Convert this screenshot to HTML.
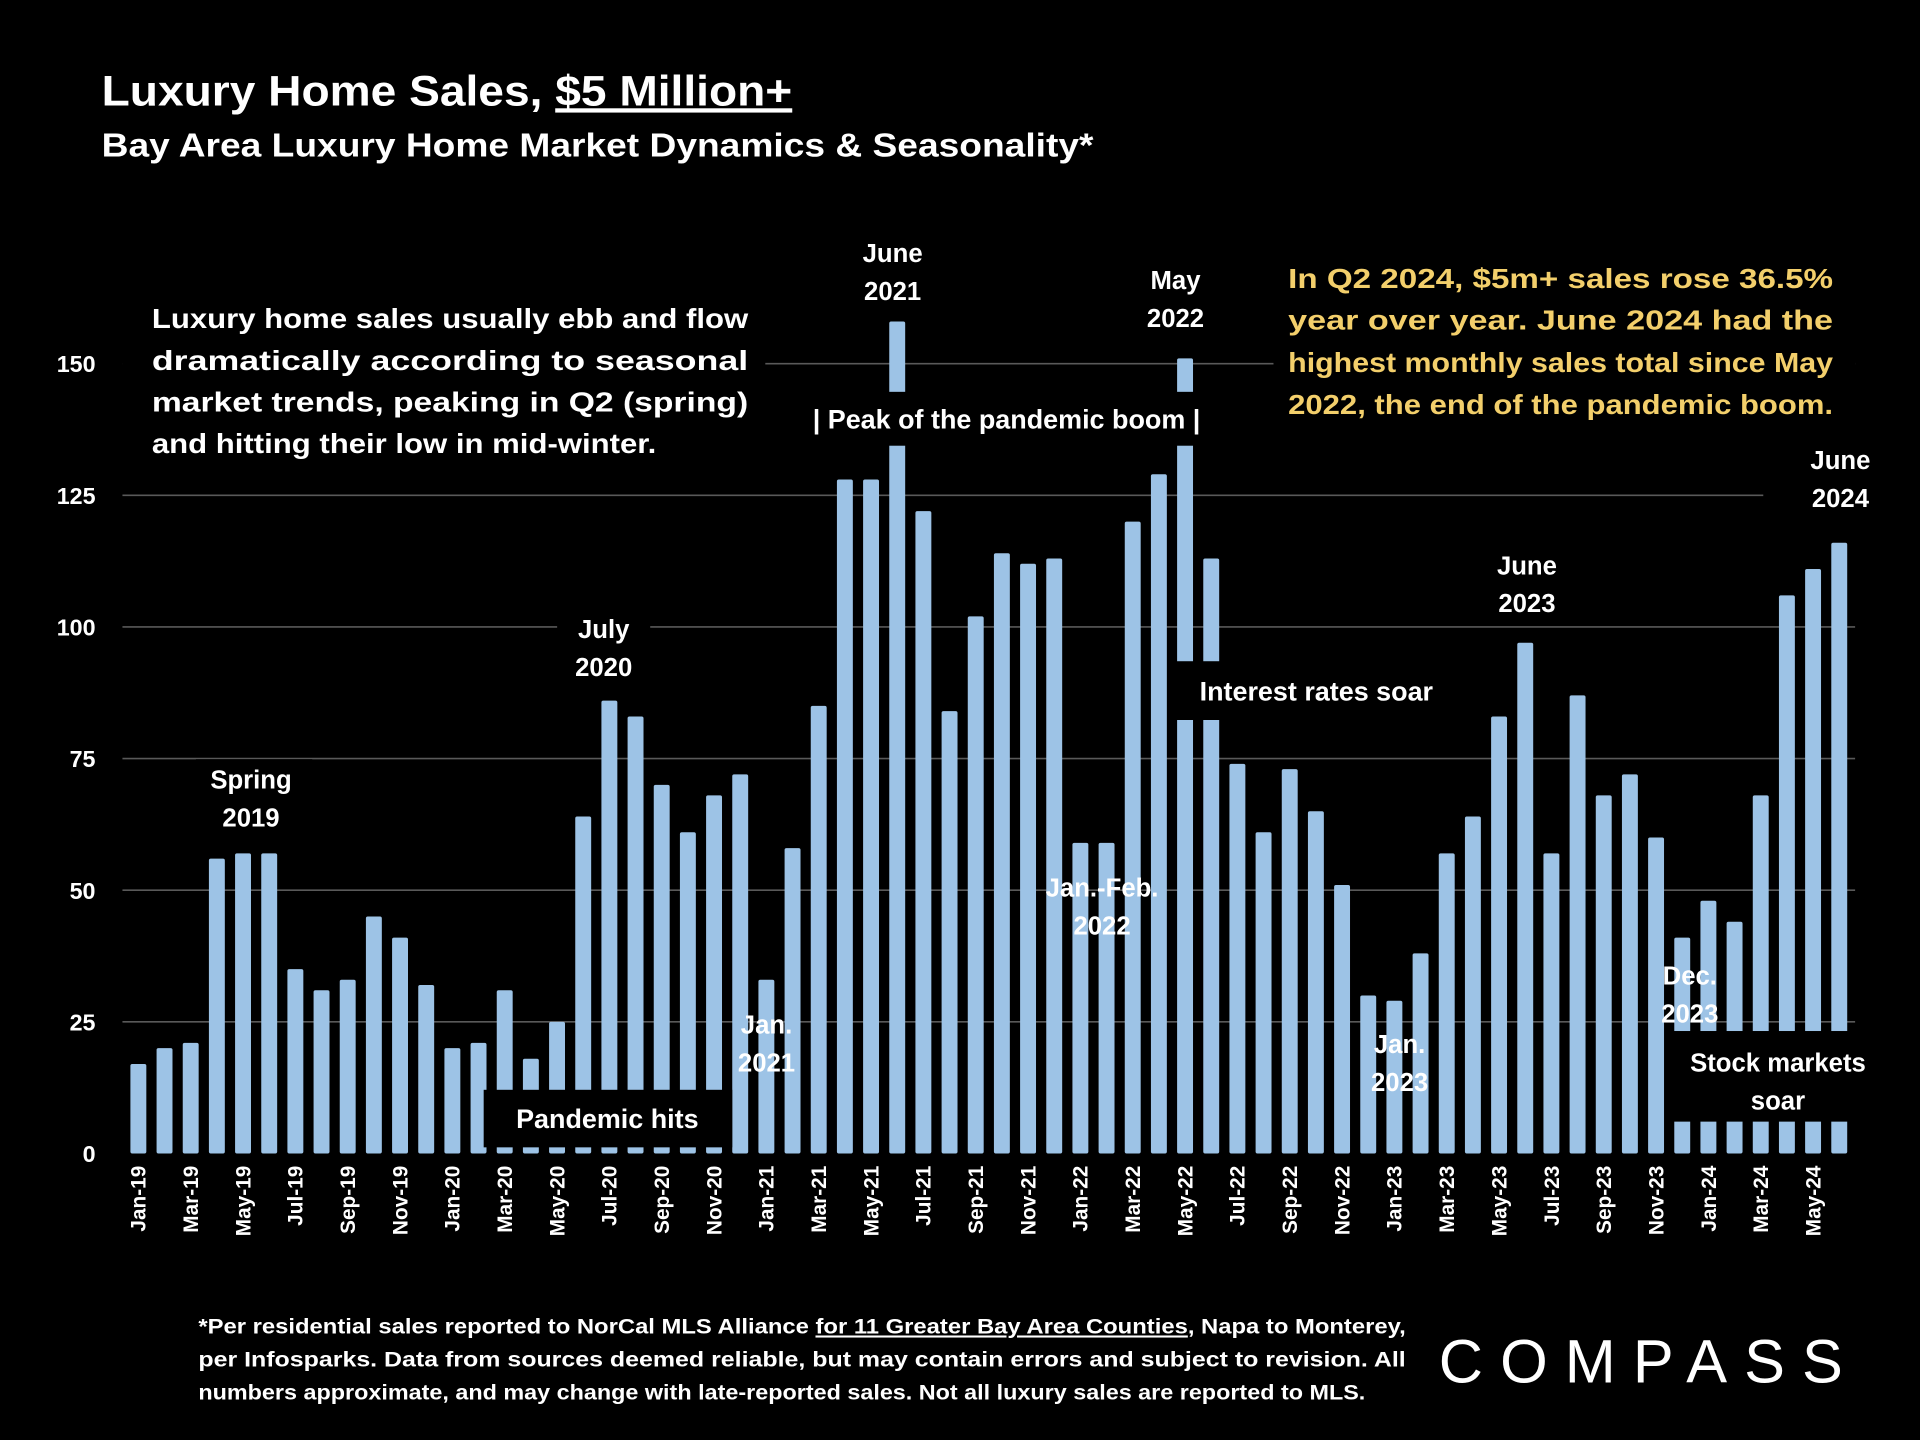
<!DOCTYPE html>
<html><head><meta charset="utf-8"><style>
html,body{margin:0;padding:0;background:#000;}
svg{display:block;font-family:"Liberation Sans",sans-serif;font-weight:bold;}
</style></head><body>
<svg id="chart" width="1920" height="1440" viewBox="0 0 1568 1176" xmlns="http://www.w3.org/2000/svg">
<rect width="1568" height="1176" fill="#000"/>
<text x="83" y="86" fill="#fff" font-size="35" textLength="564" lengthAdjust="spacingAndGlyphs">Luxury Home Sales, <tspan text-decoration="underline">$5 Million+</tspan></text>
<text x="83" y="128" fill="#fff" font-size="27" textLength="810" lengthAdjust="spacingAndGlyphs">Bay Area Luxury Home Market Dynamics &amp; Seasonality*</text>
<g id="grid"></g>
<g id="masks"></g>
<g id="bars"></g>
<g id="boxes"></g>
<g id="labels"></g>
<g id="xaxis"></g>
<g id="yaxis"></g>
<g fill="#fff" font-size="23">
<text x="124" y="268" textLength="487" lengthAdjust="spacingAndGlyphs">Luxury home sales usually ebb and flow</text>
<text x="124" y="302" textLength="487" lengthAdjust="spacingAndGlyphs">dramatically  according  to  seasonal</text>
<text x="124" y="336" textLength="487" lengthAdjust="spacingAndGlyphs">market trends, peaking in Q2 (spring)</text>
<text x="124" y="370" textLength="412" lengthAdjust="spacingAndGlyphs">and hitting their low in mid-winter.</text>
</g>
<g fill="#f3cf6b" font-size="23">
<text x="1052" y="235" textLength="445" lengthAdjust="spacingAndGlyphs">In Q2 2024, $5m+ sales rose 36.5%</text>
<text x="1052" y="269" textLength="445" lengthAdjust="spacingAndGlyphs">year over year. June 2024 had the</text>
<text x="1052" y="304" textLength="445" lengthAdjust="spacingAndGlyphs">highest monthly sales total since May</text>
<text x="1052" y="338" textLength="445" lengthAdjust="spacingAndGlyphs">2022, the end of the pandemic boom.</text>
</g>
<g fill="#fff" font-size="17">
<text x="162" y="1089" textLength="986" lengthAdjust="spacingAndGlyphs">*Per residential sales reported to NorCal MLS Alliance <tspan text-decoration="underline">for 11 Greater Bay Area Counties</tspan>, Napa to Monterey,</text>
<text x="162" y="1116" textLength="986" lengthAdjust="spacingAndGlyphs">per Infosparks. Data from sources deemed reliable, but may contain errors and subject to revision. All</text>
<text x="162" y="1143" textLength="953" lengthAdjust="spacingAndGlyphs">numbers approximate, and may change with late-reported sales. Not all luxury sales are reported to MLS.</text>
</g>
<text x="1175" y="1129" fill="#fff" font-size="50" font-weight="normal" textLength="330">COMPASS</text>
</svg>
<script>
const months = ["Jan","Feb","Mar","Apr","May","Jun","Jul","Aug","Sep","Oct","Nov","Dec"];
const categories = [];
for (let yr = 19; yr <= 24; yr++) for (let m = 0; m < 12; m++) if (!(yr === 24 && m > 5)) categories.push(months[m] + "-" + yr);
const sales = [17,20,21,56,57,57,35,31,33,45,41,32,
20,21,31,18,25,64,86,83,70,61,68,72,
33,58,85,128,128,158,122,84,102,114,112,113,
59,59,120,129,151,113,74,61,73,65,51,30,
29,38,57,64,83,97,57,87,68,72,60,41,
48,44,68,106,111,116];
const yTicks = [0,25,50,75,100,125,150];
const NS = "http://www.w3.org/2000/svg";
function y(v){ return 942 - v*4.3; }
function x(i){ return 113 + i*21.37; }
function mk(tag, attrs, parent){ const e=document.createElementNS(NS,tag); for(const k in attrs) e.setAttribute(k,attrs[k]); document.getElementById(parent).appendChild(e); return e; }
yTicks.forEach(t=>{
  if (t>0) { const l=mk("line",{x1:100,x2:1515,y1:y(t),y2:y(t),stroke:"#595959","stroke-width":1.3},"grid");
  
   }
  const tx=mk("text",{x:78,y:y(t)+7,"text-anchor":"end",fill:"#fff","font-size":19},"yaxis");
  tx.textContent=t;
  
  
});
[[100,240,525,145],[1040,205,475,145],[1440,360,100,62],[1188,445,117,62],[455,498,76,60],[160,620,95,62],[680,190,95,60],[920,212,85,60]].forEach(r=>{
  mk("rect",{x:r[0],y:r[1],width:r[2],height:r[3],fill:"#000"},"masks");
});
sales.forEach((v,i)=>{
  const b=mk("rect",{x:x(i)-6.5,y:y(v),width:13,height:942-y(v),fill:"#9dc3e6",rx:1.5},"bars");
  
  
  if (i%2===0){
    const t=mk("text",{x:0,y:0,transform:`translate(${x(i)+6},${952}) rotate(-90)`,"text-anchor":"end",fill:"#fff","font-size":17},"xaxis");
    t.textContent=categories[i];
    
    
  }
});
[[645,320,355,44,"|  Peak of the pandemic boom  |",822,350],[960,540,225,48,"Interest rates soar",1075,572],[395,890,203,47,"Pandemic hits",496,921]].forEach(b=>{
  const r=mk("rect",{x:b[0],y:b[1],width:b[2],height:b[3],fill:"#000"},"boxes");
  
  
  const t=mk("text",{x:b[5],y:b[6],"text-anchor":"middle",fill:"#fff","font-size":22},"labels");
  t.textContent=b[4];
  
  
});
const sb=mk("rect",{x:1362,y:842,width:170,height:74,fill:"#000"},"boxes");


[["Spring","2019",205,636],["July","2020",493,513],["June","2021",729,206],["May","2022",960,228],["June","2023",1247,461],["June","2024",1503,375],["Jan.","2021",626,836],["Jan.-Feb.","2022",900,724],["Jan.","2023",1143,852],["Dec.","2023",1380,796],["Stock markets","soar",1452,867]].forEach(l=>{
  const t=mk("text",{x:l[2],y:l[3]+8,"text-anchor":"middle",fill:"#fff","font-size":21},"labels");
  t.textContent=l[0];
  
  
  const t2=mk("text",{x:l[2],y:l[3]+39,"text-anchor":"middle",fill:"#fff","font-size":21},"labels");
  t2.textContent=l[1];
  
  
});
</script>
</body></html>
